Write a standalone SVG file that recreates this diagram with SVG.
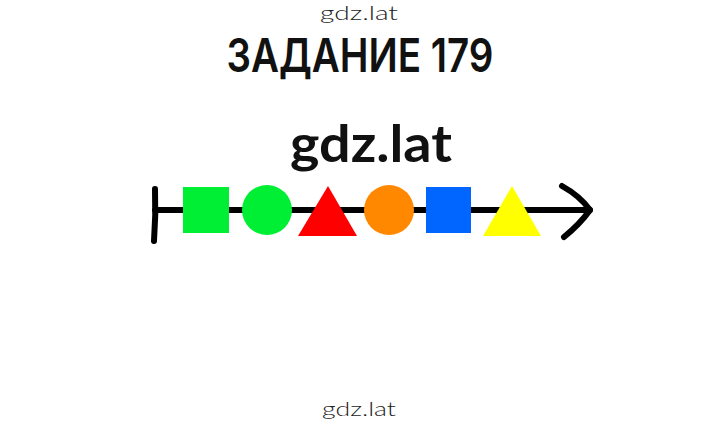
<svg xmlns="http://www.w3.org/2000/svg" width="720" height="425" viewBox="0 0 720 425">
<style>
.wm{font-family:"Lato","Liberation Sans",sans-serif;font-weight:300;fill:#222;text-anchor:middle}
.title{font-family:"Inter","Liberation Sans",sans-serif;font-weight:600;fill:#111;text-anchor:middle}
.mid{font-family:"Lato","Liberation Sans",sans-serif;font-weight:700;fill:#111;text-anchor:middle}
.ln{stroke:#000;stroke-width:6;fill:none;stroke-linecap:round;stroke-linejoin:round}
</style>
<rect width="720" height="425" fill="#fff"/>
<text class="wm" x="359" y="20" font-size="20" textLength="78" lengthAdjust="spacingAndGlyphs">gdz.lat</text>
<text class="title" x="360" y="72" font-size="47" textLength="267" lengthAdjust="spacingAndGlyphs">ЗАДАНИЕ 179</text>
<text class="mid" x="371" y="162" font-size="52" textLength="162" lengthAdjust="spacingAndGlyphs">gdz.lat</text>
<text class="wm" x="359" y="416" font-size="19" textLength="74" lengthAdjust="spacingAndGlyphs">gdz.lat</text>
<g id="connectors">
<path class="ln" d="M155,210 H590"/>
<path class="ln" d="M155,189 Q156,215 154,241"/>
<path class="ln" d="M562,186 Q580,196 590,210 Q580,224 564,237"/>
</g>
<g id="green-square"><rect x="183" y="187" width="46" height="46" fill="#00EE33"/></g>
<g id="green-circle"><circle cx="267" cy="210" r="25" fill="#00EE33"/></g>
<g id="red-triangle"><polygon points="328,186 357,236 298,236" fill="#FF0000"/></g>
<g id="orange-circle"><circle cx="389" cy="210" r="25" fill="#FF8800"/></g>
<g id="blue-square"><rect x="426" y="187" width="45" height="46" fill="#0066FF"/></g>
<g id="yellow-triangle"><polygon points="512,186 541,236 483,236" fill="#FFFF00"/></g>
</svg>
